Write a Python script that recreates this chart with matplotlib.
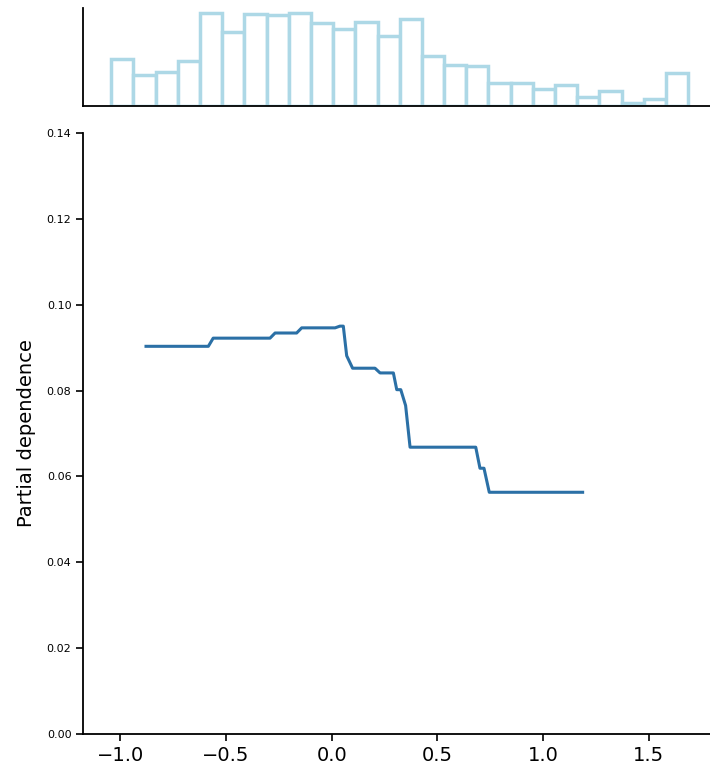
import numpy as np
import matplotlib
matplotlib.use("Agg")
import matplotlib.pyplot as plt

# feature grid and partial dependence values
grid_x = [-0.879, -0.584, -0.561, -0.292, -0.268, -0.166, -0.142, 0.016,
          0.039, 0.055, 0.071, 0.099, 0.205, 0.229, 0.292, 0.308, 0.327,
          0.350, 0.371, 0.682, 0.702, 0.721, 0.746, 1.188]
pd_values = [0.0903, 0.0903, 0.0922, 0.0922, 0.0934, 0.0934, 0.0946, 0.0946,
             0.0950, 0.0950, 0.0881, 0.0852, 0.0852, 0.0841, 0.0841, 0.0802,
             0.0802, 0.0765, 0.0668, 0.0668, 0.0619, 0.0619, 0.0563, 0.0563]

# distribution of the feature (counts per bin)
hist_counts = [47, 31, 34, 45, 93, 74, 92, 91, 93, 83, 77, 84, 70, 87,
               50, 41, 40, 23, 23, 17, 21, 9, 15, 3, 7, 33]
hist_range = (-1.044, 1.688)

y_ticks = [0.00, 0.02, 0.04, 0.06, 0.08, 0.10, 0.12, 0.14]
x_ticks = [-1.0, -0.5, 0.0, 0.5, 1.0, 1.5]


def make_plot():
    fig = plt.figure(figsize=(7.1, 7.73), dpi=100)
    ax = fig.add_axes([0.1173, 0.0505, 0.8827, 0.7775])
    ax_hist = fig.add_axes([0.1173, 0.8629, 0.8827, 0.1268], sharex=ax)

    edges = np.linspace(hist_range[0], hist_range[1], len(hist_counts) + 1)
    ax_hist.bar(edges[:-1], hist_counts, width=np.diff(edges), align="edge",
                facecolor="white", edgecolor="lightblue", linewidth=2.5)
    ax_hist.set_ylim(0, 98)
    ax_hist.set_yticks([])
    ax_hist.tick_params(axis="x", bottom=False, labelbottom=False)

    ax.plot(grid_x, pd_values, color="#2b70a6", linewidth=2.2)
    ax.set_ylim(0, 0.14)
    ax.set_xlim(-1.176, 1.791)
    ax.set_yticks(y_ticks)
    ax.set_yticklabels([f"{v:.2f}" for v in y_ticks], fontsize=8)
    ax.set_xticks(x_ticks)
    ax.tick_params(axis="x", labelsize=14, length=5, width=1.2)
    ax.tick_params(axis="y", length=5, width=1.2)
    ax.set_ylabel("Partial dependence", fontsize=14, labelpad=8)

    for a in (ax, ax_hist):
        a.spines["top"].set_visible(False)
        a.spines["right"].set_visible(False)
        a.spines["left"].set_linewidth(1.3)
        a.spines["bottom"].set_linewidth(1.3)

    fig.savefig("out.png", dpi=100)


make_plot()
